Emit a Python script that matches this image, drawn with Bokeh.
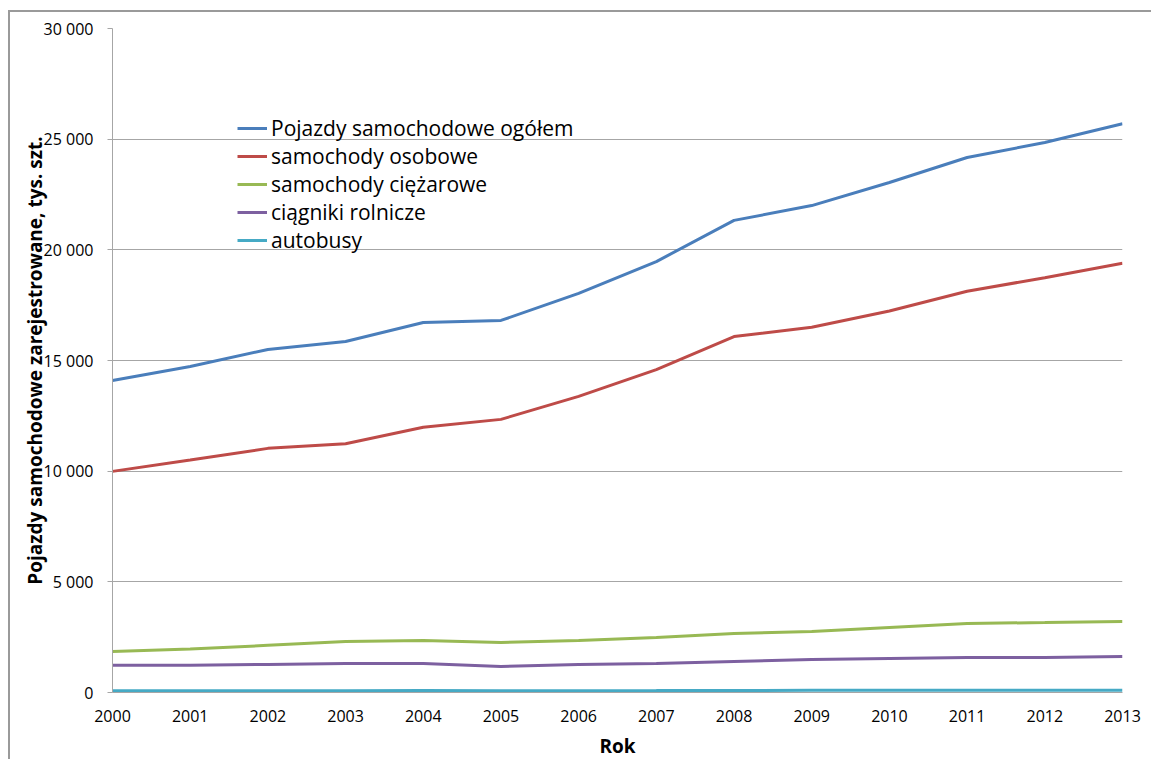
from bokeh.plotting import figure
from bokeh.models import Range1d, Legend, LegendItem
from bokeh.embed import file_html
from bokeh.resources import INLINE

years = list(range(2000, 2014))
ogolem = [14100, 14730, 15500, 15860, 16720, 16810, 18030, 19470, 21330, 22000, 23040, 24170, 24850, 25700]
osobowe = [9990, 10500, 11030, 11240, 11980, 12340, 13380, 14590, 16080, 16500, 17240, 18130, 18740, 19390]
ciezarowe = [1850, 1960, 2130, 2300, 2350, 2260, 2350, 2490, 2670, 2760, 2940, 3120, 3160, 3210]
ciagniki = [1230, 1230, 1270, 1310, 1310, 1180, 1270, 1310, 1400, 1490, 1540, 1580, 1580, 1630]
autobusy = [82, 82, 83, 84, 85, 81, 84, 87, 93, 97, 98, 99, 98, 100]

series_names = ["Pojazdy samochodowe ogółem", "samochody osobowe", "samochody ciężarowe",
                "ciągniki rolnicze", "autobusy"]
series_colors = ["#4A7EBB", "#BE4B48", "#98B954", "#7D60A0", "#46AAC5"]

y_ticks = [0, 5000, 10000, 15000, 20000, 25000, 30000]
y_tick_labels = ["0", "5 000", "10 000", "15 000", "20 000", "25 000", "30 000"]
x_ticks = years
x_tick_labels = [str(y) for y in years]

FONT = "Open Sans"

p = figure(width=1143, height=749, output_backend="svg", toolbar_location=None,
           x_range=Range1d(2000, 2013), y_range=Range1d(0, 30000),
           min_border_left=102, min_border_right=31, min_border_top=16, min_border_bottom=69)
p.margin = (10, 0, 0, 8)
p.styles = {"border-left": "2px solid #9A9A9A", "border-top": "2px solid #9A9A9A"}
p.outline_line_color = None
p.background_fill_color = "white"
p.border_fill_color = "white"

p.xgrid.grid_line_color = None
p.ygrid.grid_line_color = "#A6A6A6"
p.ygrid.grid_line_width = 1
p.ygrid.ticker = y_ticks

p.yaxis.ticker = y_ticks
p.yaxis.major_label_overrides = {t: l for t, l in zip(y_ticks, y_tick_labels)}
p.xaxis.ticker = x_ticks
p.xaxis.major_label_overrides = {t: l for t, l in zip(x_ticks, x_tick_labels)}

for ax in (p.xaxis[0], p.yaxis[0]):
    ax.axis_line_color = "#A6A6A6"
    ax.axis_line_width = 1
    ax.minor_tick_line_color = None
    ax.major_label_text_font = FONT
    ax.major_label_text_font_size = "16px"
    ax.major_label_text_color = "#000000"
    ax.axis_label_text_font = FONT
    ax.axis_label_text_font_style = "bold"
    ax.axis_label_text_font_size = "19px"
    ax.axis_label_text_color = "#000000"

p.yaxis.major_tick_line_color = "#A6A6A6"
p.yaxis.major_tick_in = 0
p.yaxis.major_tick_out = 5
p.yaxis.major_label_standoff = 14
p.yaxis.axis_label = "Pojazdy samochodowe zarejestrowane, tys. szt."
p.yaxis.axis_label_standoff = -7

p.xaxis.major_tick_line_color = None
p.xaxis.major_tick_in = 0
p.xaxis.major_tick_out = 0
p.xaxis.major_label_standoff = 17
p.xaxis.axis_label = "Rok"
p.xaxis.axis_label_standoff = 8

all_series = [ogolem, osobowe, ciezarowe, ciagniki, autobusy]
renderers = []
for name, color, vals in zip(series_names, series_colors, all_series):
    r = p.line(years, vals, line_color=color, line_width=3)
    renderers.append((name, r))

legend = Legend(items=[LegendItem(label=n, renderers=[r]) for n, r in renderers],
                location=(125, 438), border_line_color=None, background_fill_alpha=0,
                padding=0, margin=0, spacing=0, glyph_width=30, glyph_height=28,
                label_height=28, label_standoff=4,
                label_text_font=FONT, label_text_font_size="21px", label_text_color="#000000")
p.add_layout(legend, "center")

open("out.html", "w").write(file_html(p, INLINE))
